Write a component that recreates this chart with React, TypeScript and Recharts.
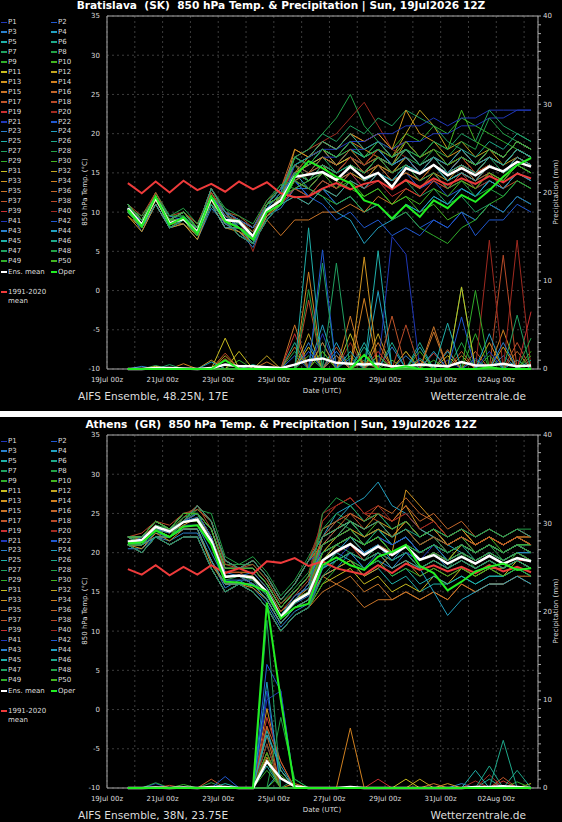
import { CartesianGrid, Line, LineChart, ReferenceArea, XAxis, YAxis } from 'recharts'

const FONT = '"DejaVu Sans", sans-serif'

// 12-hourly steps, in days since 19Jul 00z (first step 19Jul 18z)
const steps = Array.from({ length: 30 }, (_, k) => 0.75 + k * 0.5)
const dayTicks = Array.from({ length: 16 }, (_, d) => d)
const dateLabels = ['19Jul 00z', '21Jul 00z', '23Jul 00z', '25Jul 00z', '27Jul 00z', '29Jul 00z', '31Jul 00z', '02Aug 00z']
const tempTicks = [-10, -5, 0, 5, 10, 15, 20, 25, 30, 35]
const precipTicks = Array.from({ length: 41 }, (_, i) => i)

const memberColors = [
  '#2038b8', '#2058d0', '#2a80cc', '#22a0c0', '#20b0aa', '#1ea88a', '#20a060', '#22a046', '#30ad2a', '#42b420',
  '#c8bc20', '#c2a420', '#d09420', '#d08020', '#c87428', '#c2662a', '#c0562a', '#b84a28', '#c83030', '#a02a20',
]

// Bratislava 850 hPa temperature, members P1..P50
const braT = [
  [10,8,12,9,9,7,12,9,8,7,10,12,15,14,16,14,15,13,15,14,16,14,15,13,15,14,16,15,17,16],
  [11,9,12,9,10,8,12,9,9,7,11,12,16,17,18,16,17,15,16,14,15,13,14,12,13,12,14,13,15,14],
  [10.5,8.5,11.5,8.5,9.5,7.5,11.5,8.5,8.5,6.5,10.5,11.5,13,13,15,14,16,15,17,16,18,16,17,15,16,15,17,16,18,17],
  [10,8,12,9,9,8,13,10,8,7,11,13,17,16,18,17,19,17,18,16,17,15,16,14,15,13,14,13,15,14],
  [11,8,12,8,9,7,11,9,7,6,9,11,14,12,13,11,12,10,11,9,11,10,12,11,13,12,14,13,15,14],
  [10,9,12,9,10,8,12,10,9,8,11,13,16,15,17,16,18,17,19,17,18,16,17,15,16,14,15,14,16,15],
  [10,8,12,9,9,7,12,9,8,7,10,12,15,16,17,15,16,14,15,13,14,12,13,11,12,10,11,10,12,11],
  [10.5,9,11.5,9.5,9.5,8,12.5,9.5,8.5,7.5,10.5,12.5,17,18,20,22,25,21,19,17,18,16,17,15,17,16,18,17,19,18],
  [10,8,11,8,9,7,11,8,8,6,10,11,14,15,17,16,18,17,19,18,20,19,21,20,22,21,20,19,18,17],
  [10,8,12,9,9,8,13,10,8,7,11,13,16,14,15,13,14,12,13,11,12,10,11,9,10,9,11,10,12,11],
  [11,8,12,8,9,7,11,9,7,6,9,11,15,14,16,15,17,16,18,17,19,17,18,16,17,16,18,17,19,18],
  [10,9,12,9,10,8,12,10,9,8,11,13,16,17,18,16,17,16,18,17,20,23,21,18,19,17,18,16,17,16],
  [9.5,8,11.5,8.5,8.5,7,11.5,8.5,7.5,6.5,9.5,11.5,14,13,15,14,16,14,15,13,14,13,15,14,16,15,17,16,18,17],
  [11,9,12,9,10,8,12,9,9,7,11,12,15,17,18,17,19,18,17,15,16,14,15,13,14,13,15,14,16,15],
  [10,8,11,8,9,7,11,8,8,6,10,11,13,12,14,13,15,14,16,15,17,15,16,14,15,14,16,15,17,16],
  [10,8,12,9,9,8,13,10,8,7,11,13,18,17,19,18,20,18,19,17,18,16,17,15,16,15,17,16,18,17],
  [11,8,12,8,9,7,11,9,7,6,9,11,12,11,13,12,14,13,15,14,16,15,17,15,16,14,15,13,14,13],
  [11,9.5,12.5,9.5,10,8.5,12.5,10,9.5,8,11.5,13,17,18,19,18,20,19,20,18,19,17,18,16,17,15,16,15,17,16],
  [10,8,12,9,9,7,12,9,8,6,10,12,15,14,16,15,17,16,18,16,17,15,16,14,15,14,16,15,17,16],
  [11,9,12,9,10,8,12,9,9,5,10,12,16,17,19,20,22,24,21,18,17,15,16,14,15,13,14,13,15,14],
  [10,8,11,8,9,7,11,8,8,6,10,11,15,16,17,17,18,18,19,18,19,19,20,20,21,21,22,22,23,23],
  [10,8,12,9,9,8,13,10,8,7,11,13,14,12,13,11,12,10,11,9,10,8,9,8,10,9,11,10,12,11],
  [10.5,7.5,11,8,8.5,6.5,10.5,8.5,7.5,5.5,9.5,10.5,13,14,15,14,16,15,17,16,18,16,17,15,16,15,17,16,18,17],
  [10,9,12,9,10,8,12,10,9,8,11,13,15,13,12,10,9,6,8,9,11,10,12,11,13,12,14,13,15,14],
  [10,8,12,9,9,7,12,9,8,7,10,12,16,15,17,16,18,17,18,16,17,15,16,14,15,14,16,15,17,16],
  [11,9,12,9,10,8,12,9,9,7,11,12,14,15,16,15,17,16,17,15,16,15,17,16,18,17,19,18,20,19],
  [10,8,11,8,9,7,11,8,8,6,10,11,17,18,20,19,21,20,22,21,23,22,21,19,18,16,17,15,16,15],
  [10,8.5,12.5,9.5,9.5,8,13,10.5,8.5,7.5,11,13.5,13,12,14,13,15,14,16,15,17,16,18,17,19,18,22,20,19,18],
  [11,8,12,8,9,7,11,9,7,6,9,11,14,13,12,11,12,10,11,9,10,8,7,6,8,9,11,12,14,13],
  [10,9,12,9,10,8,12,10,9,8,11,13,16,17,18,17,18,16,17,16,18,17,19,18,23,19,18,17,19,18],
  [10,8,12,9,9,7,12,9,8,7,10,12,15,16,17,16,17,15,16,14,15,14,16,15,17,16,18,17,19,18],
  [11,9,12,9,10,8,12,9,9,7,11,12,14,13,15,14,16,15,17,16,19,17,18,16,17,15,16,15,17,16],
  [9.5,7.5,11,8,8.5,6.5,11,8,7.5,6,9.5,11,18,17,19,18,20,19,20,18,23,20,19,17,18,16,17,16,18,17],
  [10,8,12,9,9,8,13,10,8,7,11,13,15,14,16,14,15,14,16,15,17,15,16,15,17,16,18,17,19,18],
  [11,8,12,8,9,7,11,9,7,6,9,7,9,9,10,10,11,10,12,11,13,12,14,13,15,14,16,15,17,16],
  [10,9,12,9,10,8,12,10,9,8,11,13,14,13,15,14,16,15,17,16,18,16,17,15,16,15,17,16,18,17],
  [10,8,12,9,9,7,12,9,8,7,10,12,14,15,16,15,17,15,16,14,15,14,16,15,17,16,18,17,19,18],
  [11,9,12.5,9,10,8.5,12.5,9.5,9,7.5,11,12,16,15,17,16,18,16,17,15,16,15,17,16,18,16,17,16,18,17],
  [10,8,11,8,9,7,11,8,8,6,10,11,13,12,14,13,15,13,14,12,13,12,14,13,15,14,16,15,17,16],
  [10,8,12,9,9,8,13,10,8,7,11,13,15,14,16,15,17,16,18,17,19,17,18,16,17,15,16,15,17,16],
  [11,8,12,8,9,7,11,9,7,6,9,11,16,17,18,18,19,19,20,20,21,21,22,21,22,22,23,23,23,23],
  [10,9,12,9,10,8,12,10,9,8,11,13,14,12,11,9,10,8,9,7,8,7,9,8,10,7,9,9,11,10],
  [10,8.5,12,9.5,9,7.5,12,9.5,8,7,10.5,12.5,17,16,18,17,19,17,18,16,17,15,16,15,17,16,18,17,19,18],
  [11,9,12,9,10,8,12,9,9,7,11,12,15,14,16,15,16,14,15,14,16,15,17,16,18,16,17,16,18,17],
  [10,8,11,8,9,7,11,8,8,6,10,11,12,11,13,12,14,13,15,14,16,15,16,14,15,14,16,15,17,16],
  [10,8,12,9,9,8,13,10,8,7,11,13,16,17,19,18,20,18,19,17,18,16,17,15,16,15,17,16,18,17],
  [11,8,12,8,9,7,11,9,7,6,9,11,15,14,16,15,16,15,17,16,18,17,19,18,20,19,23,21,20,19],
  [10.5,9.5,12,9.5,10.5,8.5,12,10.5,9.5,8.5,11.5,13.5,14,13,15,14,16,15,17,15,16,14,15,13,14,12,13,12,14,13],
  [10,8,12,9,9,7,12,9,8,7,10,12,17,16,18,17,19,17,18,17,19,17,18,16,17,16,18,17,19,18],
  [11,9,12,9,10,8,12,9,9,7,11,12,13,14,15,14,13,12,13,11,12,11,13,12,14,13,15,14,16,15],
]
const braEnsT = [10.5,8.4,11.8,8.6,9.1,7.5,11.8,9.0,8.8,6.9,10.3,11.5,14.5,14.8,15.1,14.1,15.8,14.3,15.0,13.2,15.6,14.9,16.0,14.7,15.6,14.7,15.8,15.2,16.4,15.8]
const braOperT = [10.3,8.2,12.0,8.4,9.3,7.3,12.0,8.8,8.0,6.5,10.0,11.0,14.5,16.5,15.6,14.5,13.7,11.5,10.9,9.2,10.9,9.4,11.5,10.5,12.2,11.3,12.8,14.5,16.0,16.9]
const braClimT = [13.7,12.4,13.9,12.5,14.0,12.8,13.6,12.6,13.9,12.9,13.8,12.4,11.9,12.0,13.0,13.7,12.9,13.6,14.0,12.9,14.1,13.2,14.3,13.5,14.3,13.6,14.6,13.8,14.9,14.3]
const braEnsP = [0,0,0.1,0.1,0.05,0,0.1,0.5,0.3,0.3,0.2,0.1,0.5,1.0,1.2,0.7,0.6,0.5,0.6,0.3,0.3,0.5,0.4,0.3,0.8,0.4,0.4,0.6,0.3,0.4]
const braOperP = [0,0,0,0,0,0,0,1.0,0,0,0,0,0,0,0,0,0,1.6,0,0,0.3,0,0,0,0,0,0.2,0,0,0]
// precipitation spikes: [member, step, mm]
const braSpikes = [
  [3,1,0.3],[7,2,0.4],[12,2,0.3],[27,3,0.5],[14,4,0.6],[33,6,1.0],[44,6,0.8],[12,7,1.5],[31,7,3.5],[18,7,1.8],
  [40,7,1.2],[5,7,1.0],[11,8,2.0],[9,8,1.0],[32,10,1.5],[26,9,0.5],[15,10,0.8],
  [15,12,5],[19,12,4],[26,12,3],[8,12,2],[2,12,1.5],[36,12,2.5],
  [45,13,16],[14,13,11],[48,13,9],[38,13,7.8],[32,13,4],[3,13,3],[22,13,2],[11,13,2.5],[29,13,1.5],
  [42,14,13.5],[27,14,12],[16,14,3],[24,14,5],[12,14,2],[41,14,4],[6,14,3],[50,14,2],
  [47,15,12],[4,15,3],[37,15,2.5],[33,15,1.5],[23,15,2],[1,15,1.5],
  [35,16,6],[31,16,4],[44,16,2],[9,16,1.5],[20,16,3],[2,16,1.2],
  [33,17,12.7],[34,17,8],[5,17,3],[46,17,2.5],[28,17,1],[17,17,0.8],
  [25,18,13.4],[4,18,8.8],[12,18,4],[39,18,2],[7,18,1.5],[30,18,1.5],[35,18,3],
  [21,19,15],[37,19,6],[26,19,3],[10,19,1],[23,19,2.5],
  [21,20,13],[38,20,5],[14,20,2],[43,20,1.5],[9,20,2],
  [6,21,3],[30,21,2],[13,21,1],[46,21,1.2],[25,21,2.5],
  [15,22,4.2],[35,22,4.8],[24,22,2],[49,22,1],[19,22,1.8],
  [45,23,5.2],[4,23,2],[11,23,1.5],[1,23,1],[36,23,2.2],
  [27,24,9.3],[31,24,9.3],[42,24,5.9],[8,24,3],[17,24,2],[34,24,1.5],
  [49,25,8.9],[29,25,4],[36,25,2],[22,25,1.2],[7,25,1],
  [40,26,14.6],[44,26,4.0],[13,26,3],[28,26,1.5],[41,26,2],
  [18,27,12.9],[14,27,4.4],[32,27,2.5],[3,27,1.5],[43,27,3],
  [20,28,14.6],[47,28,6.1],[38,28,3],[5,28,1],[16,28,2],
  [39,29,6.5],[10,29,2],[26,29,1],[30,29,1.5],[48,29,3.5],
]

// Athens 850 hPa temperature, members P1..P50
const athT = [
  [21,21,23,22,24,24,21,17,17,17,15,12,14,15,19,20,21,20,21,20,21,19,20,19,20,19,20,19,20,19],
  [22,22,24,23,25,25,23,18,18,18,16,13,15,17,21,23,24,22,23,21,22,20,21,20,21,20,21,20,21,20],
  [21.5,21,22.5,22,23.5,23.5,20,16.5,16.5,16.5,14.5,11.5,13.5,14.5,18,19,20,18,19,18,20,19,20,18,19,18,19,18,19,18],
  [22,21,23,23,24,26,24,19,18,19,17,14,16,19,22,25,26,24,25,23,24,22,23,21,22,21,22,21,22,21],
  [21,20,22,21,22,22,18,15,16,15,13,10,12,13,17,18,19,17,18,16,17,15,16,16,17,16,17,17,18,17],
  [21,22,23,22,24,25,22,17,17,16,15,12,14,16,20,21,22,21,23,21,22,20,21,20,21,19,20,19,20,20],
  [21,21,23,22,24,24,21,17,17,17,15,12,14,15,19,21,20,19,21,19,20,18,19,18,20,19,20,19,20,19],
  [21.5,22,23.5,23,24.5,25.5,24,18.5,18.5,18.5,16.5,13.5,15.5,17.5,23,24,23,21,22,20,21,19,20,19,21,20,21,19,20,19],
  [21,21,22,22,23,23,19,16,16,16,14,11,13,14,20,22,23,21,22,20,21,19,20,19,20,18,19,18,20,19],
  [22,21,23,23,24,26,24,19,18,19,17,14,16,19,21,22,23,22,24,22,23,21,22,21,22,21,22,20,21,21],
  [21,20,22,21,22,22,18,15,16,15,13,10,12,13,16,17,18,16,17,15,16,15,17,16,18,17,18,17,19,18],
  [21,22,23,22,24,25,22,17,17,16,15,12,14,16,22,23,24,22,23,22,24,22,23,22,23,21,22,21,22,21],
  [21,21.5,23,22.5,23.5,24.5,22,17.5,17.5,17.5,15.5,12.5,14,15.5,20,22,24,23,25,24,26,23,22,21,22,20,21,20,21,20],
  [22,22,24,23,25,25,23,18,18,18,16,13,15,17,19,20,21,19,20,18,19,17,18,17,18,17,18,18,19,18],
  [21,21,22,22,23,23,19,16,16,16,14,11,13,14,17,16,15,13,14,14,15,14,15,14,16,15,16,16,17,17],
  [22,21,23,23,24,26,24,19,18,19,17,14,16,19,23,24,25,24,26,25,27,25,24,22,23,21,22,21,22,22],
  [21,20,22,21,22,22,18,15,16,15,13,10,12,13,18,19,20,19,20,18,19,18,19,18,19,18,19,18,19,18],
  [21.5,22,23.5,22.5,24.5,26,23,17.5,17.5,16.5,15,12.5,14.5,16.5,24,26,27,25,24,22,23,21,22,20,21,20,21,20,21,20],
  [21,21,23,22,24,24,21,17,17,17,15,12,14,15,21,22,23,21,22,21,22,20,21,20,21,20,21,20,21,20],
  [22,22,24,23,25,25,23,18,18,18,16,13,15,17,25,26,27,25,26,24,25,23,24,22,23,22,23,22,23,22],
  [21,21,22,22,23,23,19,16,16,16,14,11,13,14,19,20,21,20,21,19,20,19,21,20,21,20,21,20,21,20],
  [22,21,23,23,24,26,24,19,18,19,17,14,16,19,20,21,22,21,22,21,22,20,21,20,21,20,21,20,21,21],
  [20.5,20.5,22,21.5,22.5,22.5,19,15.5,16.5,15.5,13.5,10.5,12.5,13.5,17,18,20,18,20,19,21,20,21,20,21,20,21,20,21,20],
  [21,22,23,22,24,25,22,17,17,16,15,12,14,16,22,24,26,27,29,26,25,23,22,21,20,19,20,19,20,19],
  [21,21,23,22,24,24,21,17,17,17,15,12,14,15,18,20,19,18,19,17,18,16,17,16,17,16,17,17,18,17],
  [22,22,24,23,25,25,23,18,18,18,16,13,15,17,21,22,24,22,23,21,22,20,21,19,20,19,20,19,20,20],
  [21,21,22,22,23,23,19,16,16,16,14,11,13,14,18,20,22,21,23,22,23,21,22,20,21,20,21,20,21,21],
  [22,21.5,23.5,23,24,25.5,25,19.5,18.5,19.5,17.5,14.5,16.5,19.5,23,25,24,22,23,22,23,21,22,21,22,20,21,20,21,20],
  [21,20,22,21,22,22,18,15,16,15,13,10,12,13,16,18,19,18,19,17,18,17,18,17,18,17,18,17,18,17],
  [21,22,23,22,24,25,22,17,17,16,15,12,14,16,20,21,22,20,21,20,21,20,21,20,21,20,21,20,21,21],
  [21,21,23,22,24,24,21,17,17,17,15,12,14,15,19,21,22,21,22,20,21,19,20,19,21,20,21,20,21,20],
  [22,22,24,23,25,25,23,18,18,18,16,13,15,17,22,23,24,23,24,23,24,22,23,21,22,21,22,21,22,21],
  [21,20.5,22.5,21.5,23,23,18.5,16,16,15.5,14,11,13,14,17,18,19,17,18,20,28,26,24,22,23,21,22,21,22,21],
  [22,21,23,23,24,26,24,19,18,19,17,14,16,19,21,22,23,22,23,22,24,22,23,21,22,21,22,21,22,22],
  [21,20,22,21,22,22,18,15,16,15,13,10,12,13,15,16,17,15,16,14,15,14,15,14,16,15,16,16,17,16],
  [21,22,23,22,24,25,22,17,17,16,15,12,14,16,21,23,25,24,25,24,26,24,25,23,24,22,23,22,23,22],
  [21,21,23,22,24,24,21,17,17,17,15,12,14,15,20,21,22,20,21,20,21,19,20,19,20,19,20,19,20,19],
  [22,22.5,24,23.5,25,25.5,24,18.5,18,18.5,16.5,13.5,15,17,22,24,25,23,24,22,23,21,22,21,22,21,22,21,22,21],
  [21,21,22,22,23,23,19,16,16,16,14,11,13,14,19,20,21,19,20,19,20,18,19,18,19,18,19,18,19,19],
  [22,21,23,23,24,26,24,19,18,19,17,14,16,19,24,26,27,25,25,24,25,23,24,22,23,22,23,22,23,22],
  [21,20,22,21,22,22,18,15,16,15,13,10,12,13,18,19,21,20,21,19,20,19,20,19,20,19,20,19,20,19],
  [21,22,23,22,24,25,22,17,17,16,15,12,14,16,21,22,23,21,22,21,22,20,21,20,21,20,21,20,21,20],
  [21.5,21,23,22.5,24,24.5,21.5,17.5,17,17.5,15.5,12,14.5,15.5,19,20,22,21,22,20,21,20,21,19,20,19,20,19,20,20],
  [22,22,24,23,25,25,23,18,18,18,16,13,15,17,20,21,22,20,21,19,20,18,15,12,14,15,16,16,17,16],
  [21,21,22,22,23,23,19,16,16,16,14,11,13,14,18,19,20,19,20,18,19,18,19,18,19,18,19,18,19,18],
  [22,21,23,23,24,26,24,19,18,19,17,14,16,19,22,23,24,23,24,22,23,22,23,22,23,22,23,22,23,22],
  [21,20,22,21,22,22,18,15,16,15,13,10,12,13,17,19,20,19,20,19,20,18,19,18,19,18,19,18,19,18],
  [21,21.5,23,22,24.5,25,21,16.5,17,16.5,14.5,11.5,13.5,15,25,27,26,24,25,23,24,22,23,22,23,22,23,22,23,23],
  [21,21,23,22,24,24,21,17,17,17,15,12,14,15,20,21,22,21,22,20,21,20,21,20,21,20,21,20,21,20],
  [22,22,24,23,25,25,23,18,18,18,16,13,15,17,21,22,23,21,22,20,21,19,20,19,20,19,20,19,20,19],
]
const athEnsT = [21.4,21.6,23.3,22.7,23.9,24.2,21.5,16.9,17.1,16.8,15.0,11.8,13.8,14.8,19.0,20.2,21.1,19.7,20.8,19.7,20.8,19.1,19.7,18.6,19.5,18.6,19.6,18.6,19.3,18.9]
const athOperT = [21.2,21.3,22.8,22.0,23.3,23.5,21.0,16.3,16.2,15.8,15.0,11.6,13.0,13.5,18.4,19.4,18.4,17.8,19.5,20.1,21.0,18.3,17.4,15.2,16.3,17.6,18.2,18.6,17.8,18.0]
const athClimT = [17.9,17.2,18.4,17.1,18.2,17.2,18.4,17.4,18.0,17.3,18.9,18.7,19.3,18.3,18.9,18.0,17.6,17.2,18.4,17.4,18.6,17.8,18.4,17.6,18.2,17.4,18.4,17.6,18.2,17.5]
const athEnsP = [0,0,0.05,0,0.05,0,0.1,0.1,0,0,3.0,1.1,0.2,0,0,0,0.1,0,0,0,0,0,0,0,0,0.1,0.1,0.2,0.1,0]
const athOperP = [0,0,0,0,0,0,0,0,0,0,21,10,0,0,0,0,0,0,0,0,0,0,0,0,0,0,0,0,0,0]
const athSpikes = [
  [1,2,0.5],[8,2,0.6],[18,3,0.3],[29,4,0.4],[17,6,1.0],[42,7,1.3],[8,6,0.6],[25,7,0.5],
  [22,10,14],[44,10,12],[13,10,9],[19,10,8],[36,10,7],[24,10,6],[2,10,5],[31,10,4],[47,10,19],[9,10,5],
  [15,10,6],[17,10,7],[11,10,3],[41,10,10],[38,10,4],[27,10,3],[5,10,2.5],[33,10,3.5],[29,10,2],[49,10,4],
  [45,10,6.5],[40,10,5],[21,10,11],
  [22,11,11],[41,11,11],[48,11,8],[19,11,3],[13,11,2],[36,11,3],[24,11,2.5],[4,11,2],[30,11,1.5],[45,11,2],
  [48,12,1],[14,12,0.5],[27,12,1],
  [14,16,6.8],[19,18,1],[31,20,1],[12,21,1],[35,22,0.5],[33,23,0.5],[3,24,0.5],
  [45,25,2],[20,25,0.8],[26,26,2.5],[40,26,1.5],[6,26,1],[46,27,5.4],[19,27,0.8],[37,27,1.2],
  [26,28,2],[29,28,0.7],[11,29,0.5],
]

const series = (vals: number[]) => vals.map((v, k) => ({ t: steps[k], v }))
const colorOf = (i: number) => memberColors[i % 20]

const txt = { fill: '#dddddd', fontSize: 7, fontFamily: FONT }

const Legend = () => {
  const rows = Array.from({ length: 25 }, (_, r) => [2 * r + 1, 2 * r + 2])
  const item = (x: number, y: number, color: string, label: string) => (
    <div key={label} style={{ position: 'absolute', left: x, top: y - 4, height: 8, whiteSpace: 'nowrap' }}>
      <div style={{ position: 'absolute', left: 0, top: 3.5, width: 6, height: 1.5, background: color }} />
      <div style={{ position: 'absolute', left: 7, top: 0, lineHeight: '8px', fontSize: 7, color: '#dddddd' }}>{label}</div>
    </div>
  )
  return (
    <>
      {rows.map(([a, b], r) => [
        item(1, 22 + r * 9.95, colorOf(a - 1), 'P' + a),
        item(51, 22 + r * 9.95, colorOf(b - 1), 'P' + b),
      ])}
      {item(1, 271.7, '#ffffff', 'Ens. mean')}
      {item(51, 271.7, '#22ee22', 'Oper')}
      {item(1, 291.7, '#ee3b3b', '1991-2020')}
      <div style={{ position: 'absolute', left: 8, top: 297, lineHeight: '8px', fontSize: 7, color: '#dddddd' }}>mean</div>
    </>
  )
}

type PanelProps = {
  top: number
  title: string
  footer: string
  temps: number[][]
  spikes: number[][]
  ensT: number[]
  operT: number[]
  climT: number[]
  ensP: number[]
  operP: number[]
}

const Panel = ({ top, title, footer, temps, spikes, ensT, operT, climT, ensP, operP }: PanelProps) => {
  const precip = temps.map(() => steps.map(() => 0))
  spikes.forEach(([m, k, v]) => {
    precip[m - 1][k] = v
  })

  return (
    <div style={{ position: 'absolute', left: 0, top, width: 562, height: 405, fontFamily: FONT }}>
      <LineChart width={562} height={405} margin={{ top: 16, right: 0, bottom: 16, left: 77 }}>
        <CartesianGrid yAxisId="t" stroke="#3c3c3c" strokeDasharray="2 3" />
        <XAxis
          dataKey="t"
          type="number"
          domain={[0, 15.5]}
          allowDataOverflow
          ticks={dayTicks}
          interval={0}
          tickFormatter={(d: number) => (d % 2 === 0 ? dateLabels[d / 2] : '')}
          tick={txt}
          tickLine={false}
          axisLine={false}
          height={20}
        />
        <YAxis
          yAxisId="t"
          domain={[-10, 35]}
          ticks={tempTicks}
          interval={0}
          tick={txt}
          tickLine={false}
          axisLine={false}
          tickSize={5}
          tickMargin={2}
          width={30}
        />
        <YAxis
          yAxisId="p"
          orientation="right"
          domain={[0, 40]}
          ticks={precipTicks}
          interval={0}
          tickFormatter={(v: number) => (v % 10 === 0 ? String(v) : '')}
          tick={txt}
          tickLine={{ stroke: '#aaaaaa' }}
          axisLine={false}
          tickSize={3}
          tickMargin={2}
          width={24}
        />
        {temps.map((row, i) => (
          <Line key={'t' + i} yAxisId="t" data={series(row)} dataKey="v" stroke={colorOf(i)} strokeWidth={1} dot={false} isAnimationActive={false} />
        ))}
        {precip.map((row, i) => (
          <Line key={'p' + i} yAxisId="p" data={series(row)} dataKey="v" stroke={colorOf(i)} strokeWidth={1} dot={false} isAnimationActive={false} />
        ))}
        <Line yAxisId="t" data={series(climT)} dataKey="v" stroke="#ee3b3b" strokeWidth={2} dot={false} isAnimationActive={false} />
        <Line yAxisId="p" data={series(ensP)} dataKey="v" stroke="#ffffff" strokeWidth={2.5} dot={false} isAnimationActive={false} />
        <Line yAxisId="t" data={series(ensT)} dataKey="v" stroke="#ffffff" strokeWidth={2.5} dot={false} isAnimationActive={false} />
        <Line yAxisId="p" data={series(operP)} dataKey="v" stroke="#22ee22" strokeWidth={2} dot={false} isAnimationActive={false} />
        <Line yAxisId="t" data={series(operT)} dataKey="v" stroke="#22ee22" strokeWidth={2} dot={false} isAnimationActive={false} />
        <ReferenceArea yAxisId="t" x1={0} x2={15.5} y1={-10} y2={35} fill="none" stroke="#aaaaaa" strokeWidth={1} ifOverflow="visible" />
      </LineChart>
      <div style={{ position: 'absolute', left: 0, width: 562, top: -1, textAlign: 'center', fontSize: 10.6, fontWeight: 'bold', color: '#ffffff', whiteSpace: 'pre', lineHeight: '13px' }}>
        {title}
      </div>
      <Legend />
      <div style={{ position: 'absolute', left: 85, top: 192, transform: 'translate(-50%, -50%) rotate(-90deg)', fontSize: 7, color: '#dddddd', whiteSpace: 'nowrap' }}>
        850 hPa Temp. (°C)
      </div>
      <div style={{ position: 'absolute', left: 556, top: 192, transform: 'translate(-50%, -50%) rotate(-90deg)', fontSize: 7, color: '#dddddd', whiteSpace: 'nowrap' }}>
        Precipitation (mm)
      </div>
      <div style={{ position: 'absolute', left: 322, top: 391, transform: 'translate(-50%, -50%)', fontSize: 7, color: '#dddddd', whiteSpace: 'nowrap' }}>
        Date (UTC)
      </div>
      <div style={{ position: 'absolute', left: 78, top: 389, fontSize: 10.6, color: '#dddddd', whiteSpace: 'nowrap', lineHeight: '14px' }}>{footer}</div>
      <div style={{ position: 'absolute', right: 36, top: 389, fontSize: 10.6, color: '#dddddd', whiteSpace: 'nowrap', lineHeight: '14px' }}>Wetterzentrale.de</div>
    </div>
  )
}

const App = () => (
  <div style={{ position: 'fixed', left: 0, top: 0, width: 562, height: 822, background: '#000000', overflow: 'hidden' }}>
    <Panel
      top={0}
      title="Bratislava  (SK)  850 hPa Temp. & Precipitation | Sun, 19Jul2026 12Z"
      footer="AIFS Ensemble, 48.25N, 17E"
      temps={braT}
      spikes={braSpikes}
      ensT={braEnsT}
      operT={braOperT}
      climT={braClimT}
      ensP={braEnsP}
      operP={braOperP}
    />
    <div style={{ position: 'absolute', left: 0, top: 411, width: 562, height: 6, background: '#ffffff' }} />
    <Panel
      top={419}
      title="Athens  (GR)  850 hPa Temp. & Precipitation | Sun, 19Jul2026 12Z"
      footer="AIFS Ensemble, 38N, 23.75E"
      temps={athT}
      spikes={athSpikes}
      ensT={athEnsT}
      operT={athOperT}
      climT={athClimT}
      ensP={athEnsP}
      operP={athOperP}
    />
  </div>
)

export default App
